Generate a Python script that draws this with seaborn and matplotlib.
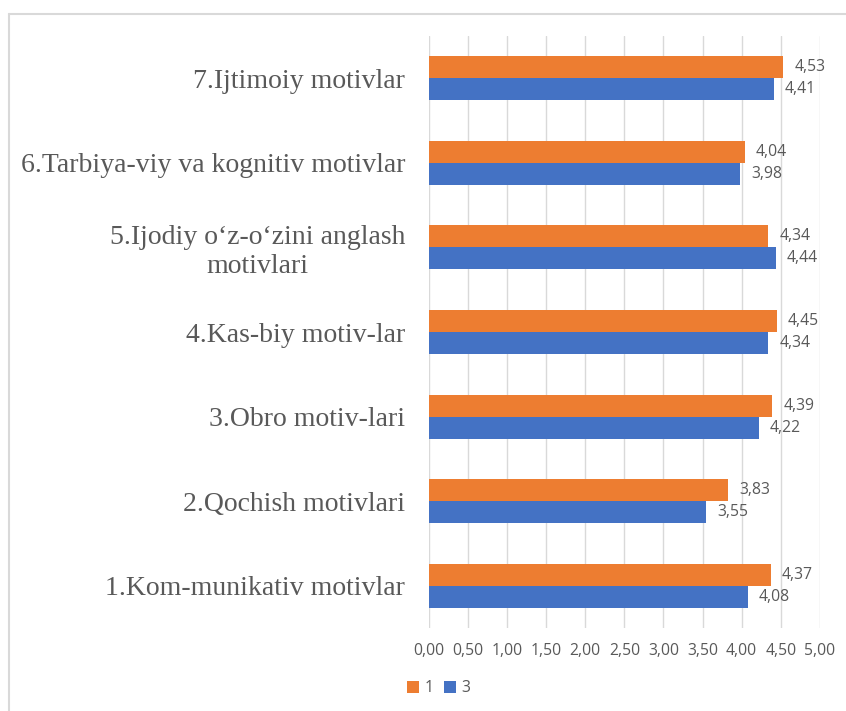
import pandas as pd
import matplotlib.pyplot as plt
from matplotlib.patches import Patch
from matplotlib.lines import Line2D
import seaborn as sns

# Data (top to bottom)
categories = [
    '7.Ijtimoiy motivlar',
    '6.Tarbiya-viy va kognitiv motivlar',
    '5.Ijodiy o‘z-o‘zini anglash\nmotivlari',
    '4.Kas-biy motiv-lar',
    '3.Obro motiv-lari',
    '2.Qochish motivlari',
    '1.Kom-munikativ motivlar',
]
series_1 = [4.53, 4.04, 4.34, 4.45, 4.39, 3.83, 4.37]
series_3 = [4.41, 3.98, 4.44, 4.34, 4.22, 3.55, 4.08]
series_names = ['1', '3']
x_ticks = [0, 0.5, 1, 1.5, 2, 2.5, 3, 3.5, 4, 4.5, 5]

colors = {'1': '#ED7D31', '3': '#4472C4'}
text_gray = '#595959'
grid_gray = '#D9D9D9'

# Long format table for seaborn
df = pd.DataFrame({
    'category': categories * 2,
    'value': series_1 + series_3,
    'series': ['1'] * len(categories) + ['3'] * len(categories),
})

sns.set_style('white')
plt.rcParams['font.family'] = ['Open Sans', 'DejaVu Sans']

fig = plt.figure(figsize=(8.46, 7.11), dpi=100)
ax = fig.add_axes([0.507, 0.1167, 0.462, 0.8327])

sns.barplot(data=df, x='value', y='category', hue='series',
            order=categories, hue_order=series_names, palette=colors,
            saturation=1, orient='h', width=0.52, gap=0, edgecolor='none',
            legend=False, ax=ax)

# Value labels with comma decimals
for cont, vals in zip(ax.containers, [series_1, series_3]):
    ax.bar_label(cont, labels=[f'{v:.2f}'.replace('.', ',') for v in vals],
                 padding=8, color=text_gray, fontsize=11.3)

ax.set_xlim(0, 5)
ax.set_xticks(x_ticks)
ax.set_xticklabels([f'{t:.2f}'.replace('.', ',') for t in x_ticks],
                   color=text_gray, fontsize=11.3)
ax.set_xlabel('')
ax.set_ylabel('')
ax.tick_params(axis='x', length=0, pad=11)
ax.tick_params(axis='y', length=0, pad=17)
for lab in ax.get_yticklabels():
    lab.set_fontfamily('Liberation Serif')
    lab.set_fontsize(20)
    lab.set_color(text_gray)
    lab.set_multialignment('center')

ax.grid(axis='x', color=grid_gray, linewidth=1)
ax.grid(axis='y', visible=False)
ax.set_axisbelow(True)
sns.despine(ax=ax, left=True, bottom=True)

# Legend at the bottom
handles = [Patch(facecolor=colors[s], edgecolor='none', label=s) for s in series_names]
fig.legend(handles=handles, loc='center left', bbox_to_anchor=(0.481, 0.032),
           ncol=2, frameon=False, fontsize=11.3, labelcolor=text_gray,
           handlelength=0.75, handleheight=0.75, handletextpad=0.35,
           columnspacing=0.7, borderpad=0, borderaxespad=0)

# Chart area border (top and left visible in the reference)
fig.add_artist(Line2D([0.0106, 1.0], [0.980, 0.980], color=grid_gray,
                      linewidth=1.5, transform=fig.transFigure))
fig.add_artist(Line2D([0.0106, 0.0106], [0.0, 0.980], color=grid_gray,
                      linewidth=1.5, transform=fig.transFigure))

fig.savefig('out.png', dpi=100)
